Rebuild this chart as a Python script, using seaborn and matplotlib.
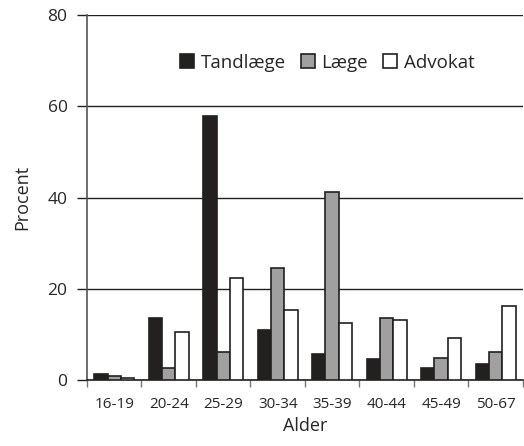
import numpy as np
import pandas as pd
import matplotlib
matplotlib.use("Agg")
import matplotlib.pyplot as plt
import seaborn as sns

# data
ages = ["16-19", "20-24", "25-29", "30-34", "35-39", "40-44", "45-49", "50-67"]
tandlaege = [1.4, 13.6, 57.9, 11.0, 5.8, 4.5, 2.7, 3.6]
laege = [0.9, 2.7, 6.2, 24.6, 41.2, 13.5, 4.8, 6.1]
advokat = [0.5, 10.5, 22.4, 15.3, 12.6, 13.2, 9.2, 16.2]
groups = ["Tandlæge", "Læge", "Advokat"]
colors = ["#231f20", "#a0a0a0", "#ffffff"]

df = pd.DataFrame({"Alder": ages * 3,
                   "Procent": tandlaege + laege + advokat,
                   "Gruppe": np.repeat(groups, len(ages))})

sns.set_theme(style="white")
plt.rcParams["font.family"] = ["Open Sans", "DejaVu Sans"]

fig = plt.figure(figsize=(5.24, 4.46), dpi=100)
ax = fig.add_axes([0.166, 0.148, 0.832, 0.818])

sns.barplot(data=df, x="Alder", y="Procent", hue="Gruppe", hue_order=groups,
            palette=colors, order=ages, width=0.74, edgecolor="#231f20",
            linewidth=1.2, ax=ax, zorder=3)

ax.set_ylim(0, 80)
ax.set_xlim(-0.5, len(ages) - 0.5)
ax.set_yticks([0, 20, 40, 60, 80])
ax.yaxis.grid(True, color="#231f20", linewidth=1.0)
ax.set_axisbelow(True)

# tick marks between categories, labels in the middle
ax.set_xticks(np.arange(-0.5, len(ages), 1.0), minor=True)
ax.tick_params(axis="x", which="major", length=0, pad=12, labelsize=11)
ax.tick_params(axis="x", which="minor", length=5, width=1, color="#777777",
               direction="out", bottom=True)
ax.tick_params(axis="y", length=7, width=1, color="#231f20", direction="out",
               left=True, labelsize=12.5, pad=7)

for s in ["top", "right"]:
    ax.spines[s].set_visible(False)
ax.spines["left"].set_color("#555555")
ax.spines["left"].set_linewidth(1.2)
ax.spines["bottom"].set_color("#231f20")
ax.spines["bottom"].set_linewidth(1.2)

ax.set_xlabel("Alder", fontsize=13, labelpad=4)
ax.set_ylabel("Procent", fontsize=13, labelpad=12)

leg = ax.legend(loc="center left", bbox_to_anchor=(0.175, 0.87), ncol=3,
                frameon=False, fontsize=13.5, handlelength=0.75,
                handleheight=0.75, handletextpad=0.35, columnspacing=0.8)

fig.savefig("out.png", dpi=100)
